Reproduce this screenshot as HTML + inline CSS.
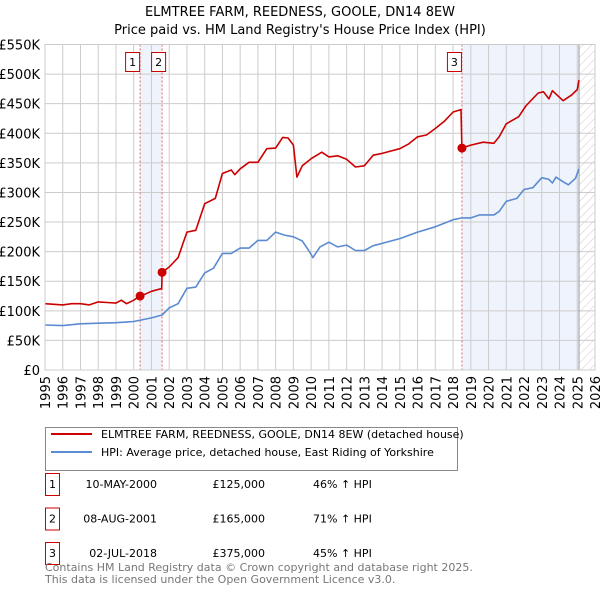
<!DOCTYPE html>
<html><head><meta charset="utf-8"><style>
body{margin:0;background:#fff;font-family:"Liberation Sans","DejaVu Sans",sans-serif;}
svg text{font-family:"DejaVu Sans","Liberation Sans",sans-serif;}
</style></head><body>
<svg id="c" width="600" height="590" xmlns="http://www.w3.org/2000/svg">
<defs><pattern id="hatch" width="6" height="6" patternUnits="userSpaceOnUse" patternTransform="rotate(45)"><line x1="0" y1="0" x2="0" y2="6" stroke="#ccc" stroke-width="1"/></pattern></defs>
<text x="300" y="16" text-anchor="middle" font-size="13" fill="#000">ELMTREE FARM, REEDNESS, GOOLE, DN14 8EW</text>
<text x="300" y="34" text-anchor="middle" font-size="13" fill="#000">Price paid vs. HM Land Registry's House Price Index (HPI)</text>
<g id="plot"></g>
<g>
<rect x="45.5" y="427.5" width="412" height="43" fill="#fff" stroke="#888"/>
<line x1="51" y1="434" x2="92" y2="434" stroke="#cc0000" stroke-width="2"/>
<text x="101" y="438" font-size="11">ELMTREE FARM, REEDNESS, GOOLE, DN14 8EW (detached house)</text>
<line x1="51" y1="452" x2="92" y2="452" stroke="#5b8bd0" stroke-width="2"/>
<text x="101" y="456" font-size="11">HPI: Average price, detached house, East Riding of Yorkshire</text>
</g>
<g id="table" font-size="11"></g>
<text x="45" y="571" font-size="11" fill="#777">Contains HM Land Registry data © Crown copyright and database right 2025.</text>
<text x="45" y="583" font-size="11" fill="#777">This data is licensed under the Open Government Licence v3.0.</text>
</svg>
<script>
const yTicks=[0,50,100,150,200,250,300,350,400,450,500,550];
const yTickLabels=["£0","£50K","£100K","£150K","£200K","£250K","£300K","£350K","£400K","£450K","£500K","£550K"];
const xYears=[1995,1996,1997,1998,1999,2000,2001,2002,2003,2004,2005,2006,2007,2008,2009,2010,2011,2012,2013,2014,2015,2016,2017,2018,2019,2020,2021,2022,2023,2024,2025,2026];
const redT=[1995,1995.5,1996,1996.5,1997,1997.5,1998,1998.5,1999,1999.3,1999.6,2000,2000.36,2000.7,2001,2001.5,2001.58,2001.6,2002,2002.5,2003,2003.5,2004,2004.6,2005,2005.5,2005.7,2006,2006.5,2007,2007.5,2008,2008.4,2008.7,2009,2009.2,2009.5,2010,2010.6,2011,2011.5,2012,2012.5,2013,2013.5,2014,2014.5,2015,2015.5,2016,2016.5,2017,2017.5,2018,2018.45,2018.5,2019,2019.7,2020.3,2020.6,2021,2021.7,2022.1,2022.8,2023.1,2023.4,2023.6,2024.2,2024.7,2025,2025.1];
const redV=[112,111,110,112,112,110,115,114,113,118,112,118,125,129,133,137,137,165,174,190,233,236,281,290,332,338,330,340,351,351,374,375,393,392,380,326,345,357,368,360,362,356,343,345,363,366,370,374,382,394,397,408,420,436,440,375,380,385,383,394,416,428,446,468,470,458,472,455,465,474,490];
const blueT=[1995,1996,1997,1998,1999,2000,2001,2001.6,2002,2002.5,2003,2003.5,2004,2004.5,2005,2005.5,2006,2006.5,2007,2007.5,2008,2008.5,2009,2009.5,2009.9,2010.1,2010.5,2011,2011.5,2012,2012.5,2013,2013.5,2014,2015,2016,2017,2017.5,2018,2018.5,2019,2019.5,2020.3,2020.6,2021,2021.6,2022,2022.5,2023,2023.4,2023.6,2023.8,2024.2,2024.5,2024.9,2025.1];
const blueV=[76,75,78,79,80,82,88,93,105,112,138,140,164,172,197,197,206,206,219,219,233,228,225,218,200,190,208,216,208,211,202,202,210,214,222,233,242,248,254,257,257,262,262,268,285,290,305,308,325,322,316,326,318,313,324,340];
const saleT=[2000.36,2001.6,2018.5];
const saleV=[125,165,375];
const saleLabels=["1","2","3"];
const saleDates=["10-MAY-2000","08-AUG-2001","02-JUL-2018"];
const salePrices=["£125,000","£165,000","£375,000"];
const saleHpi=["46% ↑ HPI","71% ↑ HPI","45% ↑ HPI"];
const dataEnd=2025.1;

const NS="http://www.w3.org/2000/svg";
const X0=45,X1=595,Y0=370,Y1=44.5;
const xS=t=>X0+(t-1995)/(2026-1995)*(X1-X0);
const yS=v=>Y0-v/550*(Y0-Y1);
function mk(tag,attrs,parent){const e=document.createElementNS(NS,tag);for(const k in attrs)e.setAttribute(k,attrs[k]);parent.appendChild(e);return e;}
const g=document.getElementById('plot');
let r=mk('rect',{x:xS(saleT[0]),y:Y1,width:xS(saleT[1])-xS(saleT[0]),height:Y0-Y1,fill:'#eef3fc'},g);


r=mk('rect',{x:xS(saleT[2]),y:Y1,width:xS(dataEnd)-xS(saleT[2]),height:Y0-Y1,fill:'#eef3fc'},g);


r=mk('rect',{x:xS(dataEnd),y:Y1,width:X1-xS(dataEnd),height:Y0-Y1,fill:'url(#hatch)'},g);


yTicks.forEach((v,i)=>{
  const l=mk('line',{x1:X0,x2:X1,y1:yS(v),y2:yS(v),stroke:'#ccc','stroke-width':1},g);
  
  
  const t=mk('text',{x:40,y:yS(v)+5,'text-anchor':'end','font-size':13},g);
  
  
  t.textContent=yTickLabels[i];
});
xYears.forEach(yr=>{
  const l=mk('line',{x1:xS(yr),x2:xS(yr),y1:Y1,y2:Y0,stroke:'#ccc','stroke-width':1},g);
  
  
  const t=mk('text',{x:0,y:0,'text-anchor':'end','font-size':13,transform:`translate(${xS(yr)+5},376) rotate(-90)`},g);
  
  
  t.textContent=yr;
});
let el=mk('line',{x1:xS(dataEnd),x2:xS(dataEnd),y1:Y1,y2:Y0,stroke:'#999','stroke-width':1},g);


saleT.forEach((t,i)=>{
  const l=mk('line',{x1:xS(t),x2:xS(t),y1:Y1,y2:Y0,stroke:'#e06666','stroke-width':1,'stroke-dasharray':'2,2'},g);
  
  
  const b=mk('rect',{x:xS(t)-(i==1?0:14)-0.5,y:52.5,width:14,height:19,fill:'#fff',stroke:'#cc0000'},g);
  if(i==1)b.setAttribute('x',xS(t)-10.5);
  
  
  const tx=mk('text',{x:+b.getAttribute('x')+7,y:66,'text-anchor':'middle','font-size':11},g);
  
  
  tx.textContent=saleLabels[i];
});
function line(T,V,color,name){
  const d=T.map((t,i)=>(i?'L':'M')+xS(t).toFixed(1)+','+yS(V[i]).toFixed(1)).join(' ');
  const p=mk('path',{d:d,fill:'none',stroke:color,'stroke-width':1.6,'stroke-linejoin':'round'},g);
  
  
}
line(blueT,blueV,'#5b8bd0','hpi-line');
line(redT,redV,'#cc0000','property-price-line');
saleT.forEach((t,i)=>{
  const c=mk('circle',{cx:xS(t),cy:yS(saleV[i]),r:4.5,fill:'#cc0000'},g);
  
  
});
mk('rect',{x:X0,y:Y1,width:X1-X0,height:Y0-Y1,fill:'none',stroke:'#ccc'},g);
const tb=document.getElementById('table');
saleT.forEach((t,i)=>{
  const y=490+i*34.5;
  const b=mk('rect',{x:45.5,y:y-16.5,width:14,height:22,fill:'#fff',stroke:'#cc0000'},tb);
  
  
  const cells=[[52.5,saleLabels[i],'middle'],[157,saleDates[i],'end'],[265,salePrices[i],'end'],[313,saleHpi[i],'start']];
  cells.forEach(c=>{
    const tx=mk('text',{x:c[0],y:y-2,'text-anchor':c[2],'font-size':11},tb);
    
    
    tx.textContent=c[1];
  });
});
</script>
</body></html>
